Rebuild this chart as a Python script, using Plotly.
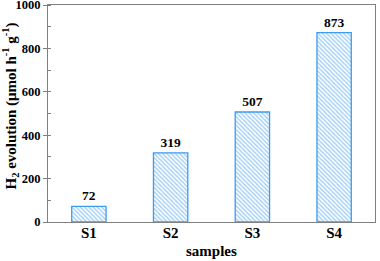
import plotly.graph_objects as go

samples = ["S1", "S2", "S3", "S4"]
h2_evolution = [72, 319, 507, 873]
y_ticks = [0, 200, 400, 600, 800, 1000]

blue = "#3d9bf0"
font_family = "Liberation Serif, Times New Roman, serif"

fig = go.Figure()
fig.add_trace(go.Bar(
    x=samples, y=h2_evolution, width=0.42,
    text=[str(v) for v in h2_evolution], textposition="outside",
    textfont=dict(family=font_family, size=13.5, color="black"),
    texttemplate="<b>%{text}</b>", cliponaxis=False,
    marker=dict(color="white", line=dict(color=blue, width=1.3),
                pattern=dict(shape="\\", fgcolor=blue, bgcolor="white", size=3, solidity=0.45)),
))
fig.update_layout(
    width=380, height=261, margin=dict(l=48, r=5, t=5, b=39),
    paper_bgcolor="white", plot_bgcolor="white", showlegend=False,
    font=dict(family=font_family, color="black"),
    annotations=[
        dict(text="<b>samples</b>", xref="paper", yref="paper", x=0.5, y=0,
             yshift=-29, xanchor="center", yanchor="middle", showarrow=False,
             font=dict(size=15, family=font_family)),
        dict(text="<b>H<sub>2</sub> evolution (μmol h<sup>-1</sup> g<sup>-1</sup>)</b>",
             xref="paper", yref="paper", x=0, y=0.5, xshift=-38, yshift=7,
             textangle=-90, xanchor="center", yanchor="middle", showarrow=False,
             font=dict(size=15, family=font_family)),
    ],
)
fig.update_xaxes(
    automargin=False,
    range=[-0.5, 3.5], showline=True, linecolor="#808080", linewidth=1, mirror=True,
    ticks="", tickfont=dict(size=15, family=font_family), ticklabelstandoff=-3,
    tickprefix="<b>", ticksuffix="</b>",
)
fig.update_yaxes(
    automargin=False,
    range=[0, 1000], showline=True, linecolor="#808080", linewidth=1, mirror=True,
    showgrid=False, zeroline=False, tickvals=y_ticks, ticktext=[f"<b>{t}</b>" for t in y_ticks],
    ticks="outside", ticklen=4, tickcolor="#808080", tickfont=dict(size=12.5),
    ticklabeloverflow="allow",
    minor=dict(ticks="inside", ticklen=3, dtick=100, tickcolor="#808080"),
)
fig.write_html("out.html", config={"displayModeBar": False},
               post_script="document.body.style.margin='0';")
